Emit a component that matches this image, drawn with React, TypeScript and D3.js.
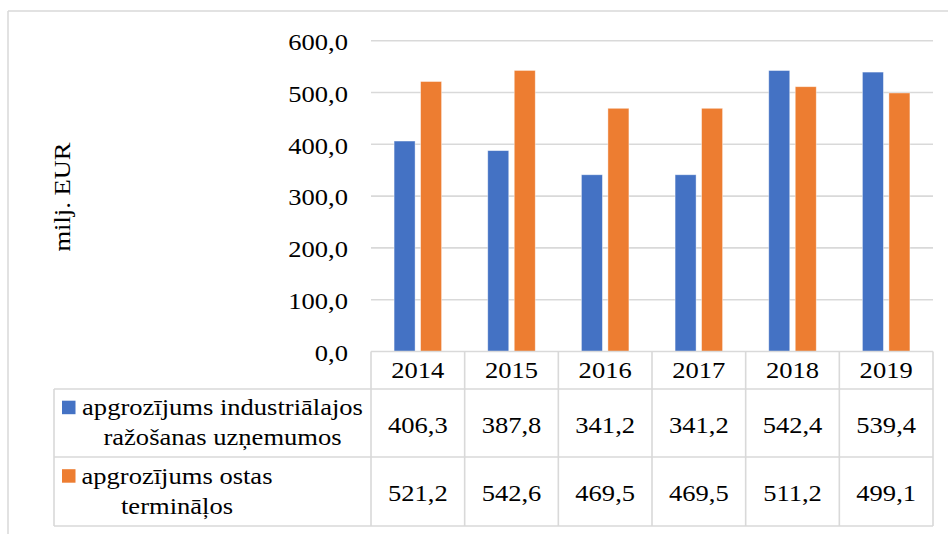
import React from "react";
import * as d3 from "d3";

const years = ["2014", "2015", "2016", "2017", "2018", "2019"];
const industrial = [406.3, 387.8, 341.2, 341.2, 542.4, 539.4];
const terminals = [521.2, 542.6, 469.5, 469.5, 511.2, 499.1];
const yTicks = [0, 100, 200, 300, 400, 500, 600];
const seriesNames = [
  ["apgrozījums industriālajos", "ražošanas uzņemumos"],
  ["apgrozījums ostas", "terminā\u013Cos"],
];
const seriesColors = ["#4472C4", "#ED7D31"];

const fmt = (v: number) => v.toFixed(1).replace(".", ",");

const FS = 23.5;
const SX = 1.13;

function T({ x, y, anchor = "middle", children, dy = "0.35em" }: any) {
  return (
    <text transform={`translate(${x},${y}) scale(${SX},1)`} dy={dy} textAnchor={anchor} fontSize={FS} fill="#000">
      {children}
    </text>
  );
}

export default function App() {
  const W = 948, H = 534;
  const plotL = 371, plotR = 933, plotT = 40.7, plotB = 351.5;
  const x = d3.scaleBand<string>().domain(years).range([plotL, plotR]);
  const y = d3.scaleLinear().domain([0, 600]).range([plotB, plotT]);
  const barW = 21, gap = 5.5;
  const rowTops = [351.5, 389, 457, 526];
  const legL = 54;
  const grid = "#d9d9d9";
  const font = "'Liberation Serif', 'Times New Roman', serif";
  const series = [industrial, terminals];
  const legendCenters = [222.5, 177];

  return (
    <svg width={W} height={H} style={{ position: "absolute", left: 0, top: 0, background: "#fff" }} fontFamily={font}>
      <rect x={0} y={0} width={W} height={H} fill="#fff" />
      {/* outer frame */}
      <line x1={8} x2={W} y1={11} y2={11} stroke={grid} strokeWidth={1.5} />
      <line x1={8} x2={8} y1={11} y2={H} stroke={grid} strokeWidth={1.5} />
      {/* gridlines */}
      {yTicks.map((t) => (
        <g key={t}>
          {t > 0 && <line x1={plotL} x2={plotR} y1={y(t)} y2={y(t)} stroke={grid} strokeWidth={1.6} />}
          <T x={348} y={y(t) + 1} anchor="end">{fmt(t)}</T>
        </g>
      ))}
      {/* bars */}
      {years.map((yr, i) => {
        const c = (x(yr) as number) + x.bandwidth() / 2;
        return series.map((s, k) => {
          const bx = k === 0 ? c - gap / 2 - barW : c + gap / 2;
          return (
            <rect key={yr + k} x={bx} y={y(s[i])} width={barW} height={plotB - y(s[i])}
              fill={seriesColors[k]} stroke="#fff" strokeOpacity={0.5} strokeWidth={0.8} />
          );
        });
      })}
      {/* axis title */}
      <text transform={`translate(69.5,197) rotate(-90) scale(${SX},1)`} textAnchor="middle" fontSize={FS} fill="#000">milj. EUR</text>
      {/* table lines */}
      <line x1={plotL} x2={plotR} y1={rowTops[0]} y2={rowTops[0]} stroke={grid} strokeWidth={1.6} />
      {rowTops.slice(1).map((ry, i) => (
        <line key={i} x1={legL} x2={plotR} y1={ry} y2={ry} stroke={grid} strokeWidth={1.6} />
      ))}
      <line x1={legL} x2={legL} y1={rowTops[1]} y2={rowTops[3]} stroke={grid} strokeWidth={1.6} />
      {[...years.map((yr) => x(yr) as number), plotR].map((vx, i) => (
        <line key={i} x1={vx} x2={vx} y1={rowTops[0]} y2={rowTops[3]} stroke={grid} strokeWidth={1.6} />
      ))}
      {/* year header */}
      {years.map((yr) => (
        <T key={yr} x={(x(yr) as number) + x.bandwidth() / 2} y={(rowTops[0] + rowTops[1]) / 2}>{yr}</T>
      ))}
      {/* values */}
      {series.map((s, k) =>
        years.map((yr, i) => (
          <T key={yr + k} x={(x(yr) as number) + x.bandwidth() / 2} y={(rowTops[k + 1] + rowTops[k + 2]) / 2 + 1.5}>{fmt(s[i])}</T>
        ))
      )}
      {/* legend cells */}
      {seriesNames.map((lines, k) => {
        const mid = (rowTops[k + 1] + rowTops[k + 2]) / 2;
        const cx = legendCenters[k];
        return (
          <g key={k}>
            <rect x={62} y={mid - 22.3} width={13.5} height={13.5} fill={seriesColors[k]} />
            <T x={cx} y={mid - 8} dy={0}>{lines[0]}</T>
            <T x={cx} y={mid + 22} dy={0}>{lines[1]}</T>
          </g>
        );
      })}
    </svg>
  );
}
